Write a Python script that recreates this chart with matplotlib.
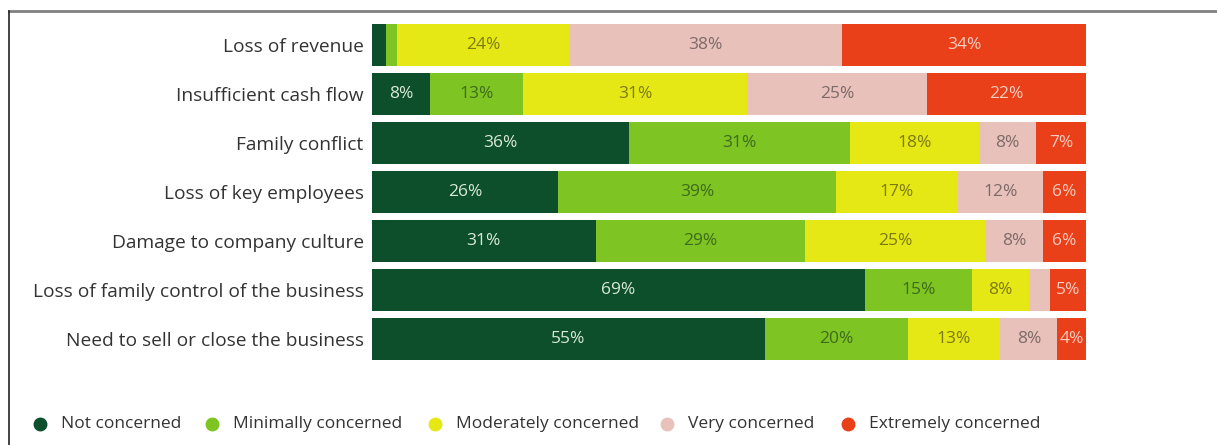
import matplotlib.pyplot as plt
from matplotlib.lines import Line2D
import numpy as np

plt.rcParams['font.family'] = ['Open Sans', 'DejaVu Sans']

categories = ['Loss of revenue', 'Insufficient cash flow', 'Family conflict',
              'Loss of key employees', 'Damage to company culture',
              'Loss of family control of the business',
              'Need to sell or close the business']
levels = ['Not concerned', 'Minimally concerned', 'Moderately concerned',
          'Very concerned', 'Extremely concerned']

not_concerned = [2, 8, 36, 26, 31, 69, 55]
minimally = [1.5, 13, 31, 39, 29, 15, 20]
moderately = [24, 31, 18, 17, 25, 8, 13]
very = [38, 25, 8, 12, 8, 3, 8]
extremely = [34, 22, 7, 6, 6, 5, 4]

colors = ['#0d4f2b', '#7ec423', '#e6e815', '#e8c1bb', '#e9401a']
text_colors = ['#d9ead3', '#3f6b1c', '#7b7a12', '#7d6a68', '#f7cdbf']

data = np.array([not_concerned, minimally, moderately, very, extremely], dtype=float)
shares = data / data.sum(axis=0) * 100

fig = plt.figure(figsize=(12.17, 4.45), dpi=100)
ax = fig.add_axes([0.3057, 0.183, 0.5867, 0.771])

y = np.arange(len(categories))
left = np.zeros(len(categories))
for i, lvl in enumerate(levels):
    ax.barh(y, shares[i], left=left, height=0.84, color=colors[i], label=lvl)
    for j in range(len(categories)):
        if data[i, j] >= 4:
            ax.text(left[j] + shares[i, j] / 2, y[j], f'{data[i, j]:.0f}%',
                    ha='center', va='center', fontsize=12.5, color=text_colors[i])
    left += shares[i]

ax.set_xlim(0, 100)
ax.set_ylim(6.5, -0.5)
ax.set_yticks(y)
ax.set_yticklabels(categories, fontsize=13.8, color='#333333')
ax.tick_params(axis='y', length=0, pad=6)
ax.set_xticks([])
for s in ax.spines.values():
    s.set_visible(False)

# legend, placed by hand in pixel positions
legend_x = [40, 212, 435, 667, 848]
legend_y = 1 - 424 / 445
for c, lbl, px in zip(colors, levels, legend_x):
    fig.add_artist(Line2D([px / 1217], [legend_y], marker='o', linestyle='',
                          markersize=9, markerfacecolor=c, markeredgecolor=c,
                          transform=fig.transFigure))
    fig.text((px + 21) / 1217, legend_y, lbl, ha='left', va='center',
             fontsize=12.5, color='#333333')

# frame lines
fig.add_artist(Line2D([0.0074, 1.0], [1 - 11 / 445, 1 - 11 / 445],
                      color='#808080', lw=2, transform=fig.transFigure))
fig.add_artist(Line2D([0.0074, 0.0074], [0, 1 - 11 / 445],
                      color='#222222', lw=1.2, transform=fig.transFigure))

plt.savefig('out.png', dpi=100)
